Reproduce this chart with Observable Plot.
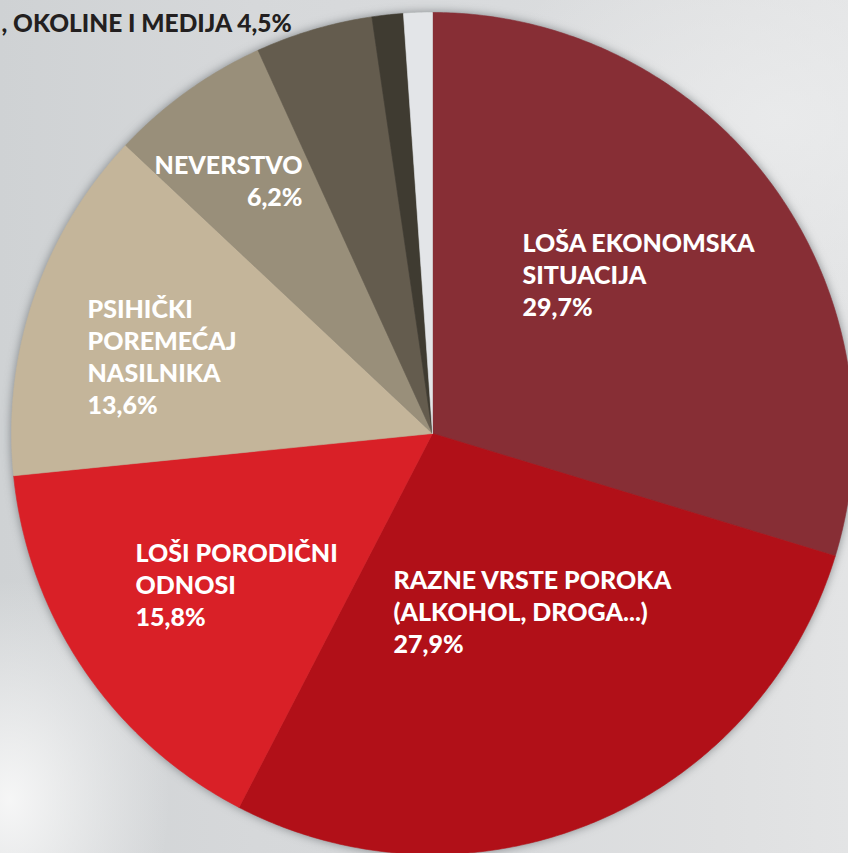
<!DOCTYPE html>
<html>
<head>
<meta charset="utf-8">
<script src="https://cdn.jsdelivr.net/npm/d3@7"></script>
<script src="https://cdn.jsdelivr.net/npm/@observablehq/plot@0.6"></script>
<style>
  html, body { margin: 0; padding: 0; }
  body {
    width: 848px; height: 853px; overflow: hidden;
    background:
      radial-gradient(ellipse 160px 220px at 10px 800px, rgba(250,250,250,0.9), rgba(250,250,250,0) 100%),
      radial-gradient(ellipse 300px 200px at 780px 120px, rgba(235,236,237,0.8), rgba(235,236,237,0) 100%),
      linear-gradient(90deg, #cfd2d4 0%, #d6d8da 30%, #d9dbdd 60%, #dfe0e1 85%, #e3e4e5 100%);
  }
  #chart svg { display: block; background: transparent !important; }
</style>
</head>
<body>
<div id="chart"></div>
<script>
// ---- data ----
const categories = [
  "LOŠA EKONOMSKA\nSITUACIJA",
  "RAZNE VRSTE POROKA\n(ALKOHOL, DROGA...)",
  "LOŠI PORODIČNI\nODNOSI",
  "PSIHIČKI\nPOREMEĆAJ\nNASILNIKA",
  "NEVERSTVO",
  ", OKOLINE I MEDIJA",
  "OSTALO",
  "BEZ ODGOVORA"
];
const values = [29.7, 27.9, 15.8, 13.6, 6.2, 4.5, 1.2, 1.1];
const colors = ["#872e35", "#b11018", "#d92027", "#c4b59a", "#998f7a", "#645c4e", "#3f3b31", "#e3e5e8"];

// ---- layout ----
const W = 848, H = 853;
const CX = 432, CY = 433, R = 421;

const fmt = v => d3.format(".1f")(v).replace(".", ",") + "%";

// slice polygons (angles clockwise from 12 o'clock)
const total = d3.sum(values);
const pts = [];
let acc = 0;
values.forEach((v, i) => {
  const a0 = acc / total * 2 * Math.PI;
  acc += v;
  const a1 = acc / total * 2 * Math.PI;
  const key = categories[i];
  pts.push({key, x: 0, y: 0});
  const n = Math.max(2, Math.ceil((a1 - a0) / (Math.PI / 360)));
  for (let k = 0; k <= n; k++) {
    const a = a0 + (a1 - a0) * k / n;
    pts.push({key, x: Math.sin(a), y: Math.cos(a)});
  }
  pts.push({key, x: 0, y: 0});
});

const font = "Lato, 'Open Sans', sans-serif";
const labelStyle = {
  fontFamily: font, fontWeight: 900, fontSize: 25, lineHeight: 1.28,
  fill: "white", textAnchor: "start", lineAnchor: "top", frameAnchor: "top-left"
};
const lab = (i, dx, dy, extra = {}) => Plot.text([0], {
  ...labelStyle, text: () => categories[i] + "\n" + fmt(values[i]), dx, dy, ...extra
});

const plot = Plot.plot({
  width: W, height: H,
  margin: 0,
  x: {domain: [-CX / R, (W - CX) / R], range: [0, W], axis: null},
  y: {domain: [-(H - CY) / R, CY / R], range: [H, 0], axis: null},
  color: {domain: categories, range: colors},
  style: {background: "transparent"},
  marks: [
    Plot.line(pts, {x: "x", y: "y", z: "key", fill: "key", stroke: "key", strokeWidth: 0.6, curve: "linear"}),
    lab(0, 522, 229),
    lab(1, 393, 566),
    lab(2, 135, 539),
    lab(3, 87, 295),
    lab(4, 302, 151, {textAnchor: "end"}),
    Plot.text([0], {
      text: () => categories[5] + " " + fmt(values[5]),
      frameAnchor: "top-left", dx: 1, dy: 14, lineAnchor: "top", textAnchor: "start",
      fontFamily: font, fontWeight: 900, fontSize: 24.5, fill: "#231f20"
    })
  ]
});

document.getElementById("chart").appendChild(plot);
const g = plot.querySelector('g[aria-label="line"]');
if (g) g.style.filter = "drop-shadow(0px 0px 5px rgba(60,65,70,0.55))";
</script>
</body>
</html>
